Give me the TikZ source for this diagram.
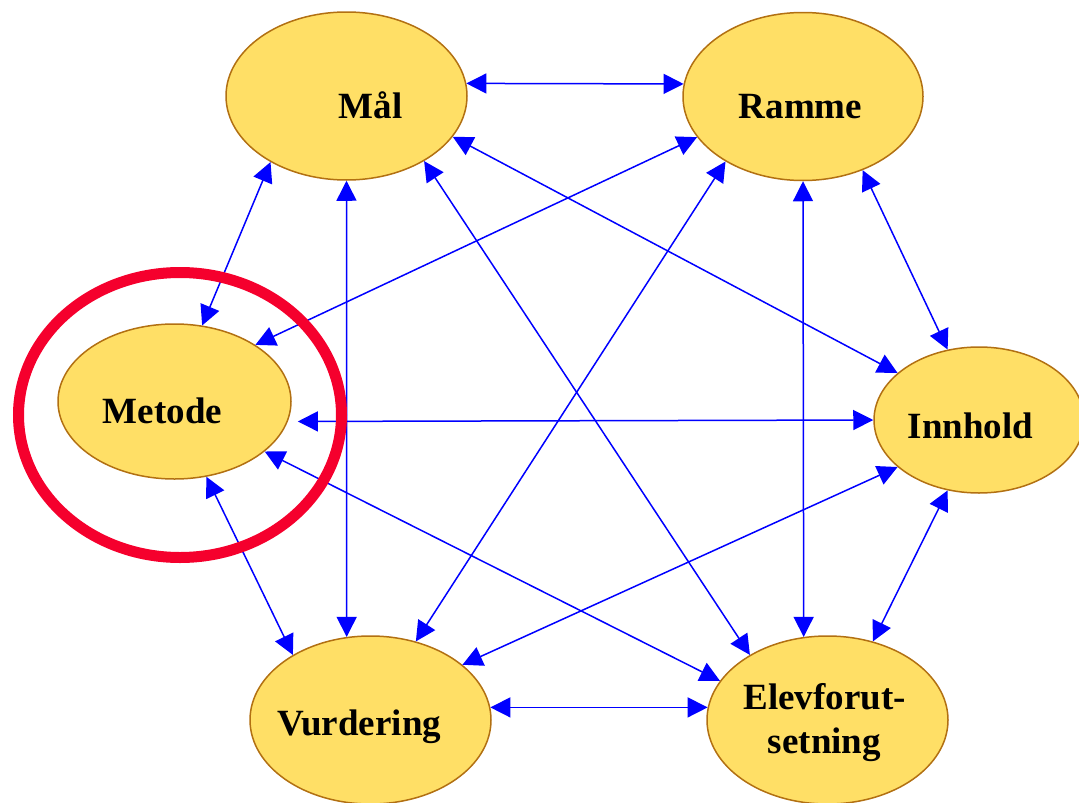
\documentclass[tikz,border=0pt]{standalone}
\usepackage{fontspec}
\setmainfont{Liberation Serif}
\usetikzlibrary{shapes.geometric,arrows.meta}
\definecolor{elfill}{RGB}{255,223,102}
\definecolor{eldraw}{RGB}{178,112,18}
\definecolor{ringred}{RGB}{245,0,45}
\begin{document}
\begin{tikzpicture}[x=1pt,y=-1pt,
  topic/.style={ellipse,draw=eldraw,fill=elfill,line width=1.5pt,inner sep=0pt},
  lbl/.style={anchor=base,font=\fontsize{37}{42}\selectfont\bfseries,inner sep=0pt},
  link/.style={draw=blue,line width=1.5pt,{Triangle[length=20pt,width=20pt]}-{Triangle[length=20pt,width=20pt]}}]
\useasboundingbox (0,0) rectangle (1079,803);
\clip (0,0) rectangle (1079,803);
% ellipses
\node[topic,minimum width=241pt,minimum height=168pt] (mal) at (346.5,96) {};
\node[topic,minimum width=240pt,minimum height=168pt] (ramme) at (803,96.5) {};
\node[topic,minimum width=233pt,minimum height=155pt] (metode) at (174.5,401.5) {};
\node[topic,minimum width=210pt,minimum height=146pt] (innhold) at (979,420) {};
\node[topic,minimum width=241pt,minimum height=168pt] (vurd) at (370.5,720) {};
\node[topic,minimum width=241pt,minimum height=168pt] (elev) at (827.5,720) {};
% labels
\node[lbl] (tmal) at (370.5,118) {Mål};
\node[lbl] (tramme) at (800.5,118) {Ramme};
\node[lbl] (tmetode) at (162.5,423) {Metode};
\node[lbl] (tinnhold) at (970.5,438) {Innhold};
\node[lbl] (tvurd) at (359.5,735) {Vurdering};
\node[lbl] (telev1) at (824.5,709) {Elevforut-};
\node[lbl] (telev2) at (824.5,753) {setning};
% connectors
\draw[link] (mal.6) -- (ramme.174);
\draw[link] (mal.221) -- (metode.70);
\draw[link] (mal.270) -- (vurd.106);
\draw[link] (mal.320) -- (elev.140);
\draw[link] (mal.339) -- (innhold.150);
\draw[link] (ramme.201) -- (metode.35);
\draw[link] (ramme.220) -- (vurd.60);
\draw[link] (ramme.270) -- (elev.106);
\draw[link] (ramme.309) -- (innhold.114);
\draw[link,shorten <=10pt] (metode.350) -- (innhold.180);
\draw[link] (metode.293) -- (vurd.140);
\draw[link] (metode.331) -- (elev.160);
\draw[link] (innhold.210) -- (vurd.31);
\draw[link] (innhold.246) -- (elev.60);
\draw[link] (vurd.6) -- (elev.174);
% highlight ring
\draw[ringred,line width=11pt] (180,415) ellipse [x radius=161.5, y radius=142.5];
\end{tikzpicture}
\end{document}
